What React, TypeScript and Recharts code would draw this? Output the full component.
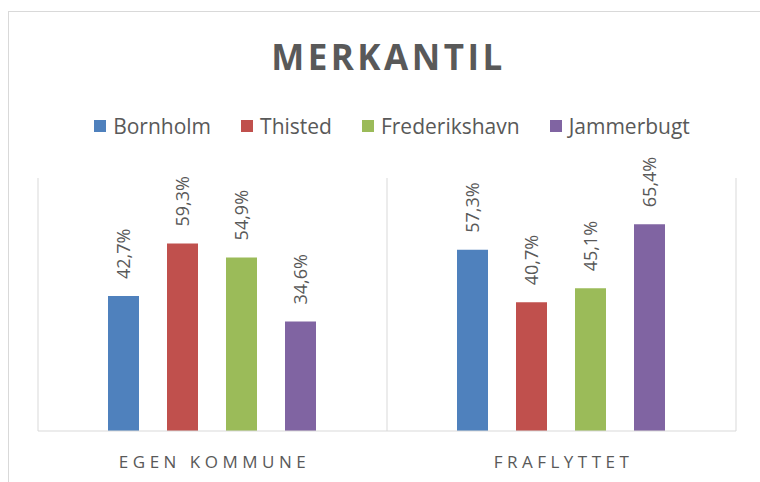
import React from 'react';
import { BarChart, Bar, XAxis, YAxis, CartesianGrid, LabelList } from 'recharts';

const categories = ['EGEN KOMMUNE', 'FRAFLYTTET'];
const bornholm = [42.7, 57.3];
const thisted = [59.3, 40.7];
const frederikshavn = [54.9, 45.1];
const jammerbugt = [34.6, 65.4];

const series = [
  { key: 'Bornholm', values: bornholm, color: '#4F81BD' },
  { key: 'Thisted', values: thisted, color: '#C0504D' },
  { key: 'Frederikshavn', values: frederikshavn, color: '#9BBB59' },
  { key: 'Jammerbugt', values: jammerbugt, color: '#8064A2' },
];

const data = categories.map((name, i) => {
  const row: any = { name };
  series.forEach((s) => {
    row[s.key] = s.values[i];
  });
  return row;
});

const font = '"Open Sans", sans-serif';
const textColor = '#595959';
const lineColor = '#d9d9d9';

const fmt = (v: number) => v.toFixed(1).replace('.', ',') + '%';

const RotatedLabel = (props: any) => {
  const { x, y, width, value } = props;
  const cx = x + width / 2;
  const cy = y - 17;
  return (
    <text
      x={cx}
      y={cy}
      transform={`rotate(-90 ${cx} ${cy})`}
      textAnchor="start"
      dominantBaseline="central"
      fill={textColor}
      fontFamily={font}
      fontSize={18}
    >
      {fmt(value)}
    </text>
  );
};

const CategoryTick = (props: any) => {
  const { x, y, payload } = props;
  return (
    <text
      x={x + 2}
      y={y}
      dy={35}
      textAnchor="middle"
      fill={textColor}
      fontFamily={font}
      fontSize={17}
      letterSpacing={4.5}
    >
      {payload.value}
    </text>
  );
};

export default function App() {
  return (
    <div
      style={{
        position: 'absolute',
        left: 0,
        top: 0,
        width: 760,
        height: 482,
        overflow: 'hidden',
        background: '#fff',
      }}
    >
      <div
        style={{
          position: 'absolute',
          left: 8,
          top: 11,
          width: 900,
          height: 900,
          border: `1px solid ${lineColor}`,
        }}
      />
      <div
        style={{
          position: 'absolute',
          left: 0,
          top: 33,
          width: 777,
          textAlign: 'center',
          fontFamily: font,
          fontWeight: 700,
          fontSize: 35,
          letterSpacing: 3.5,
          color: textColor,
          lineHeight: '48px',
        }}
      >
        MERKANTIL
      </div>
      <div
        style={{
          position: 'absolute',
          left: 0,
          top: 114,
          width: 784,
          display: 'flex',
          justifyContent: 'center',
          alignItems: 'center',
          gap: 30,
          fontFamily: font,
          fontSize: 21,
          color: textColor,
          lineHeight: '24px',
        }}
      >
        {series.map((s) => (
          <div key={s.key} style={{ display: 'flex', alignItems: 'center' }}>
            <span
              style={{
                display: 'inline-block',
                width: 12,
                height: 12,
                background: s.color,
                marginRight: 7,
              }}
            />
            {s.key}
          </div>
        ))}
      </div>
      <BarChart
        width={760}
        height={482}
        data={data}
        margin={{ top: 178, right: 24, left: 38, bottom: 21 }}
        barGap={28}
        barCategoryGap={70}
        style={{ position: 'absolute', left: 0, top: 0 }}
      >
        <CartesianGrid
          horizontal={false}
          stroke={lineColor}
          verticalCoordinatesGenerator={({ offset }: any) => [
            offset.left,
            offset.left + offset.width / 2,
            offset.left + offset.width,
          ]}
        />
        <XAxis
          dataKey="name"
          height={30}
          axisLine={{ stroke: lineColor }}
          tickLine={false}
          tickSize={0}
          tick={<CategoryTick />}
        />
        <YAxis hide domain={[0, 80]} />
        {series.map((s) => (
          <Bar key={s.key} dataKey={s.key} fill={s.color} isAnimationActive={false}>
            <LabelList dataKey={s.key} content={<RotatedLabel />} />
          </Bar>
        ))}
      </BarChart>
    </div>
  );
}
